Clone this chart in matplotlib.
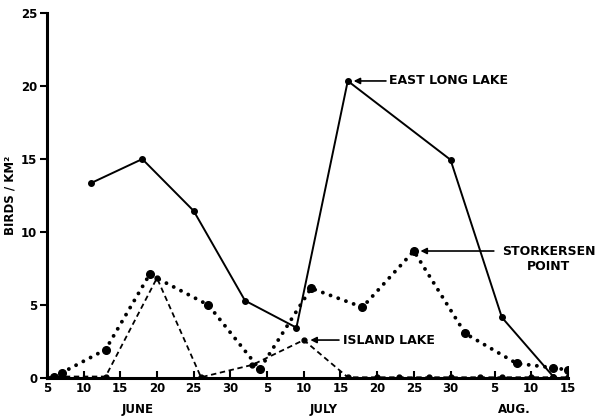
import numpy as np
import matplotlib
matplotlib.use("Agg")
import matplotlib.pyplot as plt
import matplotlib.transforms as mtransforms

# x = days after June 5
tick_days = [0, 5, 10, 15, 20, 25, 30, 35, 40, 45, 50, 55, 61, 66, 71]
tick_labels = ['5', '10', '15', '20', '25', '30', '5', '10', '15',
               '20', '25', '30', '5', '10', '15']
months = ['JUNE', 'JULY', 'AUG.']
month_days = [12.3, 37.7, 63.7]

east_days = [6, 13, 20, 27, 34, 41, 55, 62, 69]
east_vals = [13.35, 15.0, 11.45, 5.3, 3.45, 20.35, 14.95, 4.15, 0.1]

stork_days = [1, 2, 8, 14, 22, 29, 36, 43, 50, 57, 64, 69, 71]
stork_vals = [0.1, 0.35, 1.95, 7.1, 5.0, 0.6, 6.15, 4.85, 8.7, 3.05, 1.0, 0.7, 0.55]

island_days = [0, 1, 8, 15, 21, 28, 35, 41, 45, 48, 52, 55, 59, 62, 66, 69, 71]
island_vals = [0.0, 0.1, 0.1, 6.85, 0.05, 0.9, 2.6, 0.05, 0.05, 0.05, 0.05,
               0.05, 0.05, 0.05, 0.05, 0.05, 0.05]

plt.rcParams['font.family'] = 'DejaVu Sans'
plt.rcParams['font.weight'] = 'bold'

fig = plt.figure(figsize=(6.01, 4.18), dpi=100)
ax = fig.add_axes([0.078, 0.0957, 0.867, 0.873])

ax.plot(east_days, east_vals, color='black', lw=1.4, marker='o', ms=4,
        solid_joinstyle='miter')
# dotted line: tiny dashes with round caps -> dots
ax.plot(stork_days, stork_vals, color='black', lw=2.8,
        linestyle=(0, (0.01, 2.1)), dash_capstyle='round')
ax.plot(stork_days, stork_vals, color='black', lw=0, marker='o', ms=5.5)
ax.plot(island_days, island_vals, color='black', lw=1.3, linestyle=(0, (3, 2)),
        marker='o', ms=3.5)

ax.set_xlim(0, 71)
ax.set_ylim(0, 25)
ax.set_xticks(tick_days)
ax.set_xticklabels(tick_labels)
ax.set_yticks([0, 5, 10, 15, 20, 25])

for s in ['top', 'right']:
    ax.spines[s].set_visible(False)
for s in ['left', 'bottom']:
    ax.spines[s].set_linewidth(2.2)

ax.tick_params(axis='x', direction='in', length=5, width=1.5, labelsize=8.5, pad=3)
ax.tick_params(axis='y', direction='out', length=5, width=1.5, labelsize=8.5, pad=2)
for lab in ax.get_xticklabels() + ax.get_yticklabels():
    lab.set_fontweight('bold')

ax.set_ylabel('BIRDS / KM²', fontsize=8.5, fontweight='bold')
ax.yaxis.set_label_coords(-0.058, 0.5)

trans = mtransforms.blended_transform_factory(ax.transData, ax.transAxes)
for m, d in zip(months, month_days):
    ax.text(d, -0.085, m, transform=trans, ha='center', va='center',
            fontsize=8.5, fontweight='bold', clip_on=False)

arrow = dict(arrowstyle='-|>', color='black', lw=1.2, shrinkA=0, shrinkB=0,
             mutation_scale=9)
ax.annotate('', xy=(41.8, 20.35), xytext=(46.2, 20.35), arrowprops=arrow)
ax.text(46.6, 20.35, 'EAST LONG LAKE', ha='left', va='center',
        fontsize=9, fontweight='bold')

ax.annotate('', xy=(50.9, 8.7), xytext=(60.9, 8.7), arrowprops=arrow)
ax.text(68.4, 8.15, 'STORKERSEN\nPOINT', ha='center', va='center',
        fontsize=9, fontweight='bold', linespacing=1.15, clip_on=False)

ax.annotate('', xy=(35.9, 2.6), xytext=(39.8, 2.6), arrowprops=arrow)
ax.text(40.3, 2.6, 'ISLAND LAKE', ha='left', va='center',
        fontsize=9, fontweight='bold')

fig.savefig('out.png', dpi=100)
